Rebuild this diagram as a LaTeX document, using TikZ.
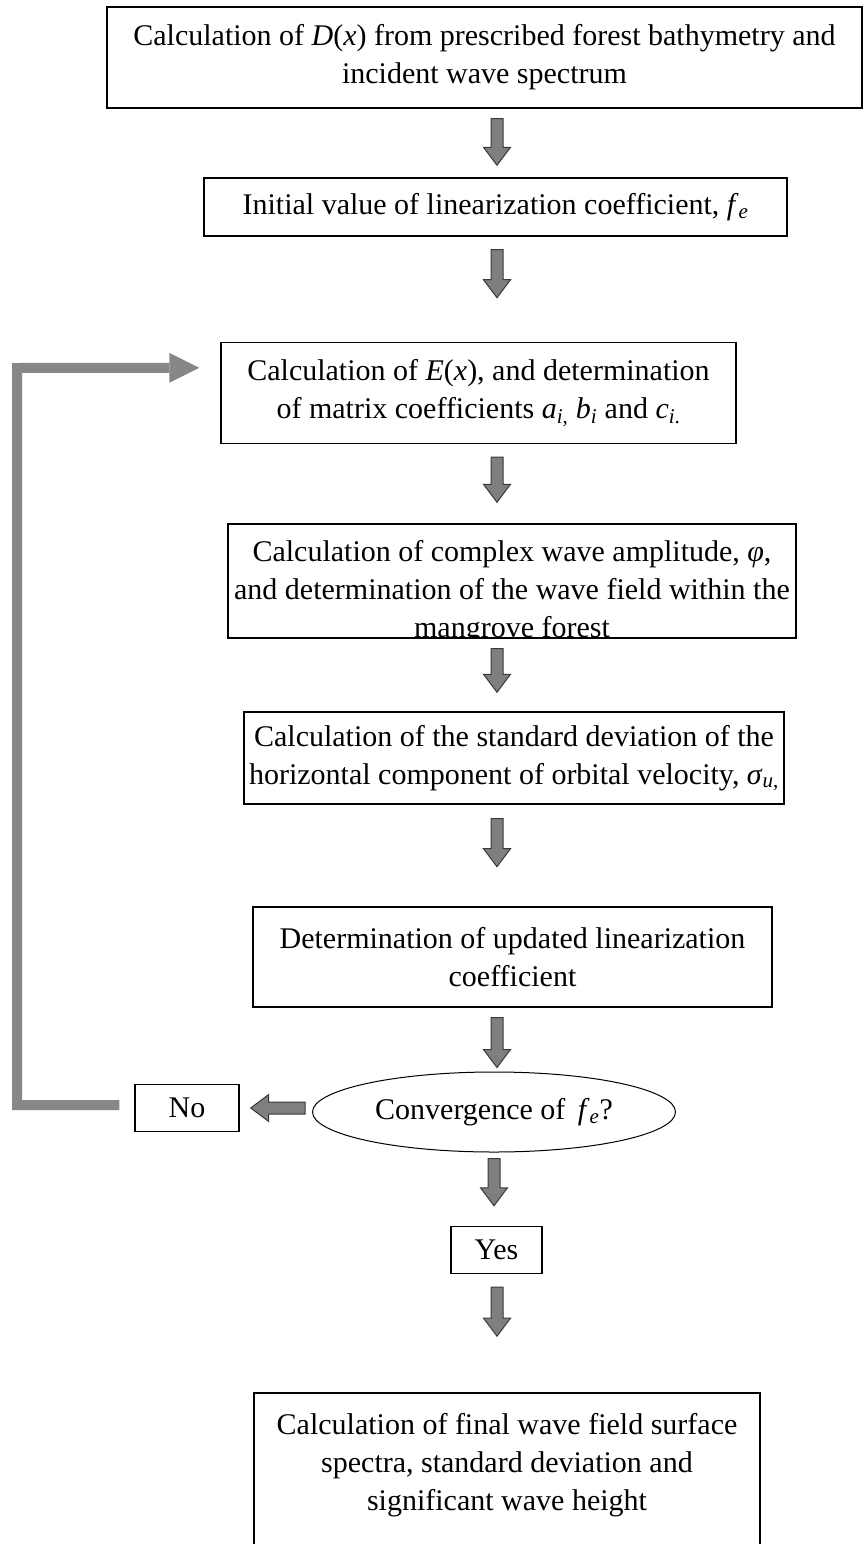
\documentclass[tikz,border=0pt]{standalone}
\usepackage{fontspec}
\setmainfont{Liberation Serif}
\usetikzlibrary{calc,shapes.geometric}
\definecolor{arrowgray}{HTML}{7F7F7F}
\definecolor{arrowdark}{HTML}{3A3A3A}
\definecolor{loopgray}{HTML}{878787}
\tikzset{
  boxtext/.style={font=\fontsize{30}{38}\selectfont},
  box/.style={draw=black, line width=1.4pt, inner sep=0pt, align=center, boxtext},
  txt/.style={inner sep=0pt, align=center, boxtext},
  blockarrow/.style={fill=arrowgray, draw=arrowdark, line width=1pt, line join=miter},
  loopline/.style={draw=loopgray, line width=10pt, line join=miter}
}
\newcommand\downblock[2]{%
  \path[blockarrow] let \p1=(#1), \p2=(#2) in
    (\x1-6pt,\y1) -- (\x1+6pt,\y1) -- (\x1+6pt,\y2+18pt) -- (\x1+13.5pt,\y2+18pt)
    -- (\x1,\y2) -- (\x1-13.5pt,\y2+18pt) -- (\x1-6pt,\y2+18pt) -- cycle;}
\newcommand\leftblock[2]{%
  \path[blockarrow] let \p1=(#1), \p2=(#2) in
    (\x1,\y1+6pt) -- (\x1,\y1-6pt) -- (\x2+18pt,\y1-6pt) -- (\x2+18pt,\y1-13.5pt)
    -- (\x2,\y1) -- (\x2+18pt,\y1+13.5pt) -- (\x2+18pt,\y1+6pt) -- cycle;}
\begin{document}
\begin{tikzpicture}[x=1pt,y=-1pt]
\useasboundingbox (0,0) rectangle (867,1544);
\fill[white] (0,0) rectangle (867,1544);

\node[box, minimum width=755, minimum height=101] (b1) at (484.5,57.5)
  {Calculation of \textit{D}(\textit{x}) from prescribed forest bathymetry and\\ incident wave spectrum};
\node[box, minimum width=583, minimum height=58] (b2) at (495.5,207)
  {Initial value of linearization coefficient, \textit{f}\textsubscript{\textit{e}}};
\node[box, minimum width=515, minimum height=101] (b3) at (478.5,393)
  {Calculation of \textit{E}(\textit{x}), and determination\\ of matrix coefficients \textit{a}\textsubscript{\textit{i},} \textit{b}\textsubscript{\textit{i}} and \textit{c}\textsubscript{\textit{i}.}};
\node[box, minimum width=568, minimum height=114] (b4) at (512,581) {};
\node[txt] (t4) at (512,592)
  {Calculation of complex wave amplitude, \textit{φ},\\ and determination of the wave field within the\\ mangrove forest};
\fill[white] ($(b4.south west)+(-2,0.7)$) rectangle ($(b4.south east)+(2,20)$);
\draw[line width=1.4pt] (b4.south west) -- (b4.south east);
\node[box, minimum width=540, minimum height=92] (b5) at (514,758)
  {Calculation of the standard deviation of the\\ horizontal component of orbital velocity, \textit{σ}\textsubscript{\textit{u},}};
\node[box, minimum width=519, minimum height=100] (b6) at (512.5,957)
  {Determination of updated linearization\\ coefficient};
\node[ellipse, draw=black, line width=1pt, minimum width=363, minimum height=80, inner sep=0pt, boxtext] (ell) at (494,1112)
  {Convergence of \,\textit{f}\textsubscript{\textit{e}}?};
\node[box, minimum width=104, minimum height=47] (no) at (187,1108) {No};
\node[box, minimum width=91, minimum height=47] (yes) at (496.5,1250) {Yes};
\node[box, minimum width=506, minimum height=167] (b8) at (507,1476.5) {};
\node[txt] (t8) at (507,1465)
  {Calculation of final wave field surface\\ spectra, standard deviation and\\ significant wave height};

\coordinate (ax) at (497,0);
\downblock{$(b1.south -| ax)+(0,10)$}{$(b2.north -| ax)+(0,-12)$}
\downblock{$(b2.south -| ax)+(0,13)$}{$(b2.south -| ax)+(0,61)$}
\downblock{$(b3.south -| ax)+(0,13)$}{$(b4.north -| ax)+(0,-21)$}
\downblock{$(b4.south -| ax)+(0,10)$}{$(b5.north -| ax)+(0,-19)$}
\downblock{$(b5.south -| ax)+(0,14)$}{$(b5.south -| ax)+(0,62)$}
\downblock{$(b6.south -| ax)+(0,10)$}{$(ell.north -| ax)+(0,-4)$}
\downblock{$(ell.south)+(0,6)$}{$(yes.north -| ell.south)+(0,-20)$}
\downblock{$(yes.south -| ax)+(0,13)$}{$(yes.south -| ax)+(0,62)$}
\leftblock{$(ell.west)+(-7,-4)$}{$(no.east)+(11,0)$}

\coordinate (l1) at ($(no.west)+(-15,-3)$);
\coordinate (lt) at ($(b3.north west)+(-21,26)$);
\draw[loopline] (l1) -- (17,1105) -- (17,368) -- ($(lt)+(-30,0)$);
\fill[loopgray] ($(lt)+(-30,-15)$) -- (lt) -- ($(lt)+(-30,15)$) -- cycle;
\end{tikzpicture}
\end{document}
